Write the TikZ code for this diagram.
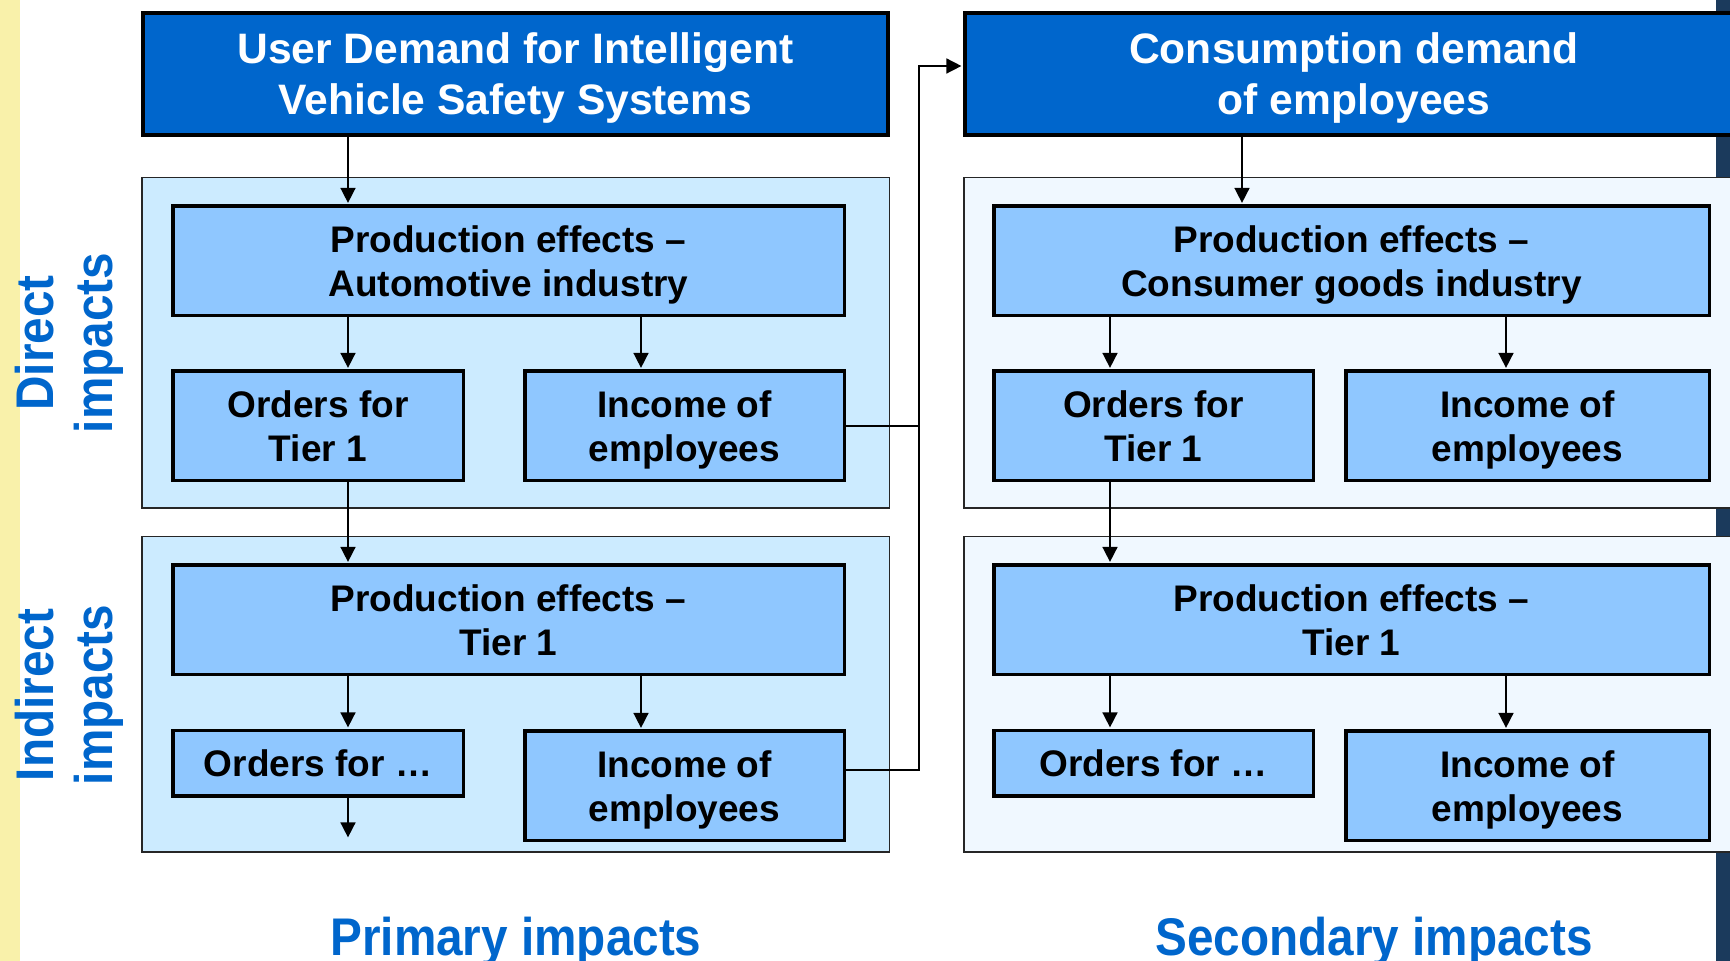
\documentclass[tikz,border=0pt]{standalone}
\usepackage{fontspec}
\setmainfont{Liberation Sans}
\newfontfamily\narrowsans[FakeStretch=0.9]{Liberation Sans}
\usetikzlibrary{arrows.meta}
\definecolor{headblue}{RGB}{0,102,204}
\definecolor{boxblue}{RGB}{143,199,255}
\definecolor{primbg}{RGB}{204,235,255}
\definecolor{secbg}{RGB}{240,248,255}
\definecolor{stripyellow}{RGB}{249,241,170}
\definecolor{stripdark}{RGB}{27,58,92}

\begin{document}
\begin{tikzpicture}[
    x=0.5pt, y=-0.5pt,
    demand/.style={rectangle, draw=black, line width=2pt, fill=headblue, text=white, inner sep=0pt, text depth=0pt, align=center, font=\fontsize{21.3}{25.5}\selectfont\bfseries},
    zone/.style={rectangle, draw=black!85, line width=0.75pt, inner sep=0pt},
    effect/.style={rectangle, draw=black, line width=1.75pt, fill=boxblue, inner sep=0pt, text depth=0pt, align=center, font=\fontsize{18.5}{22}\selectfont\bfseries},
    impact/.style={text=headblue, inner sep=0pt, align=center, font=\narrowsans\fontsize{26.5}{29.5}\selectfont\bfseries},
    link/.style={line width=0.8pt, shorten >=0.8pt, -{Triangle[length=7.5pt, width=7.5pt]}}
]
\useasboundingbox (0,0) rectangle (1730,961);
\clip (0,0) rectangle (1730,961);

% Side strips
\fill[stripyellow] (0,0) rectangle (20,961);
\fill[stripdark] (1716,0) rectangle (1730,961);

% Panels
\node[zone, fill=primbg, minimum width=373.75pt, minimum height=165.25pt] (dirL) at (515.5,343) {};
\node[zone, fill=primbg, minimum width=373.75pt, minimum height=157.75pt] (indL) at (515.5,694.5) {};
\node[zone, fill=secbg, minimum width=390.25pt, minimum height=165.25pt] (dirR) at (1354,343) {};
\node[zone, fill=secbg, minimum width=390.25pt, minimum height=157.75pt] (indR) at (1354,694.5) {};

% Demand boxes
\node[demand, minimum width=372.5pt, minimum height=61pt] (titleL) at (515.5,74) {User Demand for Intelligent\\Vehicle Safety Systems};
\node[demand, minimum width=389pt, minimum height=61pt] (titleR) at (1354,74) {Consumption demand\\of employees};

% Primary impacts - direct
\node[effect, minimum width=335.75pt, minimum height=54.75pt] (prodA) at (508.5,261) {Production effects --\\Automotive industry};
\node[effect, minimum width=145.25pt, minimum height=54.75pt] (ordA) at (318,426) {Orders for\\Tier 1};
\node[effect, minimum width=159.75pt, minimum height=54.75pt] (incA) at (684.5,426) {Income of\\employees};

% Primary impacts - indirect
\node[effect, minimum width=335.75pt, minimum height=54.75pt] (prodB) at (508.5,620) {Production effects --\\Tier 1};
\node[effect, minimum width=145.25pt, minimum height=32.75pt] (ordB) at (318,763.5) {Orders for \dots};
\node[effect, minimum width=159.75pt, minimum height=54.75pt] (incB) at (684.5,786) {Income of\\employees};

% Secondary impacts - direct
\node[effect, minimum width=357.75pt, minimum height=54.75pt] (prodC) at (1351.5,261) {Production effects --\\Consumer goods industry};
\node[effect, minimum width=159.75pt, minimum height=54.75pt] (ordC) at (1153.5,426) {Orders for\\Tier 1};
\node[effect, minimum width=181.75pt, minimum height=54.75pt] (incC) at (1527.5,426) {Income of\\employees};

% Secondary impacts - indirect
\node[effect, minimum width=357.75pt, minimum height=54.75pt] (prodD) at (1351.5,620) {Production effects --\\Tier 1};
\node[effect, minimum width=159.75pt, minimum height=32.75pt] (ordD) at (1153.5,763.5) {Orders for \dots};
\node[effect, minimum width=181.75pt, minimum height=54.75pt] (incD) at (1527.5,786) {Income of\\employees};

% Labels
\node[impact, rotate=90, text depth=0pt] (dirlab) at (64,343) {Direct\\impacts};
\node[impact, rotate=90, text depth=0pt] (indlab) at (64,695) {Indirect\\impacts};
\node[impact, anchor=base] (primlab) at (516,955) {Primary impacts};
\node[impact, anchor=base] (seclab) at (1374,955) {Secondary impacts};

% Connectors
\coordinate (colA) at (348,0);
\coordinate (colB) at (641,0);
\coordinate (colC) at (1110,0);
\coordinate (colD) at (1506,0);
\coordinate (colT) at (1242,0);
\coordinate (more) at (348,839);
\coordinate (turn) at (919,66);
\coordinate (joinB) at (919,770);

\draw[link] (titleL.south -| colA) -- (prodA.north -| colA);
\draw[link] (prodA.south -| colA) -- (ordA.north -| colA);
\draw[link] (prodA.south -| colB) -- (incA.north -| colB);
\draw[link] (ordA.south -| colA) -- (prodB.north -| colA);
\draw[link] (prodB.south -| colA) -- (ordB.north -| colA);
\draw[link] (prodB.south -| colB) -- (incB.north -| colB);
\draw[link] (ordB.south -| colA) -- (more);

\draw[link] (titleR.south -| colT) -- (prodC.north -| colT);
\draw[link] (prodC.south -| colC) -- (ordC.north -| colC);
\draw[link] (prodC.south -| colD) -- (incC.north -| colD);
\draw[link] (ordC.south -| colC) -- (prodD.north -| colC);
\draw[link] (prodD.south -| colC) -- (ordD.north -| colC);
\draw[link] (prodD.south -| colD) -- (incD.north -| colD);

\draw[link] (incA.east) -| (turn) -- (titleR.west |- turn);
\draw[line width=0.8pt] (incB.east |- joinB) -- (joinB) -- (turn);

\end{tikzpicture}
\end{document}
